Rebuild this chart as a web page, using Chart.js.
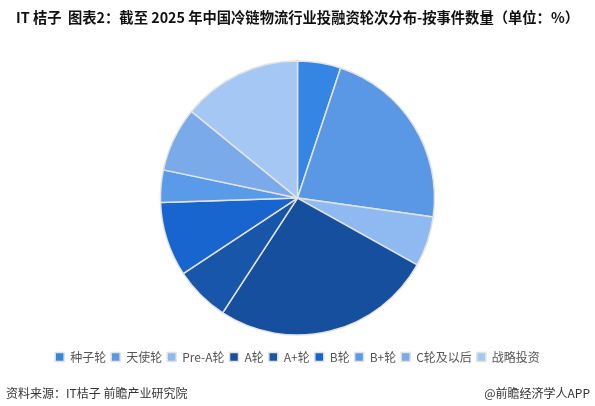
<!DOCTYPE html>
<html>
<head>
<meta charset="utf-8">
<script src="https://cdn.jsdelivr.net/npm/chart.js@4.4.1/dist/chart.umd.min.js"></script>
<style>
  html, body { margin: 0; padding: 0; background: #fff; }
  #wrap { position: relative; width: 595px; height: 406px; font-family: "Noto Sans CJK SC", sans-serif; }
  #pieChart { position: absolute; left: 0; top: 0; }
  .foot { position: absolute; top: 384px; font-size: 12px; color: #333; }
</style>
</head>
<body>
<div id="wrap">
  <canvas id="pieChart" width="595" height="389"></canvas>
  <div class="foot" style="left:6px;">资料来源：IT桔子 前瞻产业研究院</div>
  <div class="foot" style="right:5px;">@前瞻经济学人APP</div>
</div>
<script>
// rounds of financing and their share of events (%)
const rounds = ['种子轮', '天使轮', 'Pre-A轮', 'A轮', 'A+轮', 'B轮', 'B+轮', 'C轮及以后', '战略投资'];
const shares = [5.1, 22.1, 5.9, 26.1, 6.5, 8.8, 3.8, 7.6, 14.1];
const roundColors = ['#3585e5', '#5a98e5', '#8fb9f1', '#154f9e', '#1756a8', '#1865d0', '#5a9be9', '#7aaaea', '#a5c7f3'];

const titleText = 'IT 桔子  图表2：截至 2025 年中国冷链物流行业投融资轮次分布-按事件数量（单位：%）';

const ctx = document.getElementById('pieChart').getContext('2d');
new Chart(ctx, {
    type: 'pie',
    data: {
        labels: rounds,
        datasets: [{
            data: shares,
            backgroundColor: roundColors,
            borderColor: '#e3e3e3',
            borderWidth: 1.5,
            radius: 137
        }]
    },
    options: {
        responsive: false,
        animation: false,
        layout: { padding: { bottom: 16 } },
        plugins: {
            title: {
                display: true,
                text: titleText,
                color: '#111',
                font: { family: '"Noto Sans CJK SC", sans-serif', size: 14.3, weight: 'bold' },
                padding: { top: 9, bottom: 24 }
            },
            legend: {
                position: 'bottom',
                labels: {
                    boxWidth: 9,
                    boxHeight: 9,
                    padding: 5,
                    color: '#555',
                    font: { family: '"Noto Sans CJK SC", sans-serif', size: 12 }
                }
            },
            tooltip: { enabled: false }
        }
    }
});
</script>
</body>
</html>
